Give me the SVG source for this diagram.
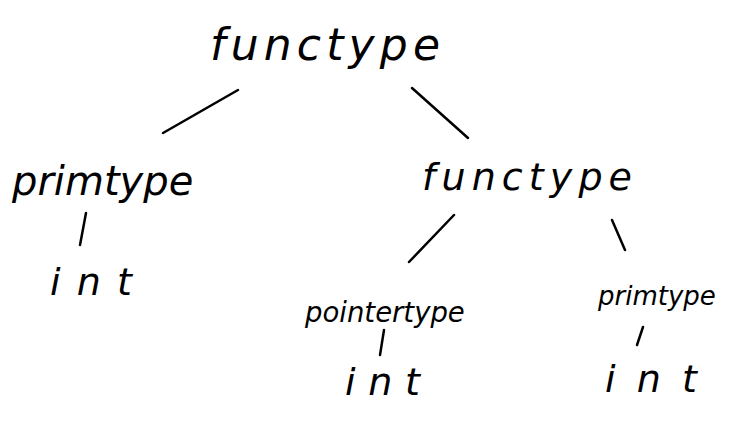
<svg xmlns="http://www.w3.org/2000/svg" width="743" height="423" viewBox="0 0 743 423">
<style>
text{font-family:"DejaVu Sans","Liberation Sans",sans-serif;font-style:italic;fill:#000;text-anchor:start}
.big{font-size:44px}
.mid{font-size:38px}
.edge{stroke:#000;stroke-width:2.5;stroke-linecap:round;fill:none}
</style>
<rect width="743" height="423" fill="#fff"/>
<g id="connectors">
<path class="edge" d="M238,90 L163,133"/>
<path class="edge" d="M412,88 L468,138"/>
<path class="edge" d="M86,213 L80,245"/>
<path class="edge" d="M454,215 L409,262"/>
<path class="edge" d="M612,220 L625,250"/>
<path class="edge" d="M384,330 L380,355"/>
<path class="edge" d="M643,327 L637,345"/>
</g>
<g id="n-functype-root"><text class="big" x="210" y="60" textLength="230" lengthAdjust="spacing">functype</text></g>
<g id="n-primtype-left"><text x="12" y="195" font-size="40">primtype</text></g>
<g id="n-int-left"><text class="mid" x="50" y="295" textLength="82" lengthAdjust="spacing">int</text></g>
<g id="n-functype-right"><text class="mid" x="422" y="190" textLength="210" lengthAdjust="spacing">functype</text></g>
<g id="n-pointertype"><text x="305" y="322" font-size="27.5">pointertype</text></g>
<g id="n-int-mid"><text class="mid" x="345" y="395" textLength="75" lengthAdjust="spacing">int</text></g>
<g id="n-primtype-right"><text x="598" y="305" font-size="26">primtype</text></g>
<g id="n-int-right"><text class="mid" x="605" y="392" textLength="92" lengthAdjust="spacing">int</text></g>
</svg>
